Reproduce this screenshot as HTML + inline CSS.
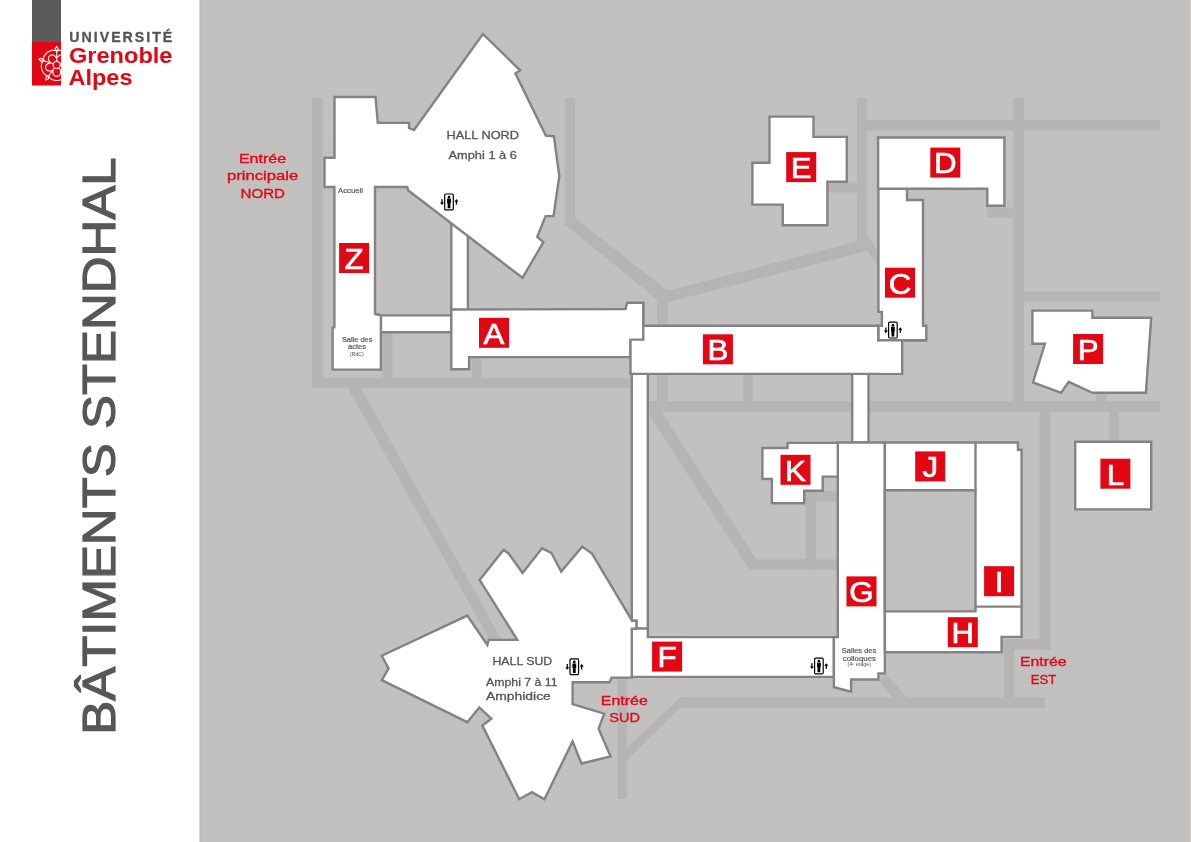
<!DOCTYPE html>
<html><head><meta charset="utf-8"><style>
html,body{margin:0;padding:0;background:#fff;}
body{width:1191px;height:842px;overflow:hidden;}
svg{display:block;font-family:"Liberation Sans",sans-serif;will-change:transform;}
</style></head><body>
<svg width="1191" height="842" viewBox="0 0 1191 842">
<rect x="0" y="0" width="1191" height="842" fill="#fff"/>
<rect x="199" y="0" width="992" height="842" fill="#c2c1c0"/>
<rect x="199" y="0" width="1" height="842" fill="#d9d9d9"/><rect x="200" y="0" width="1" height="842" fill="#bcbbba"/>
<rect x="1189.5" y="0" width="1.5" height="842" fill="#cfcfcf"/>
<rect x="312" y="97.8" width="10.50" height="289.80" fill="#b6b5b4"/>
<rect x="312" y="377.8" width="319.70" height="9.80" fill="#b6b5b4"/>
<rect x="382.5" y="332" width="10.00" height="46.00" fill="#b6b5b4"/>
<rect x="471.5" y="357" width="10.00" height="21.00" fill="#b6b5b4"/>
<polygon points="347.4,387.6 360.5,387.6 524.2,680 512.6,680" fill="#b6b5b4"/>
<polygon points="565,97.8 575,97.8 575,218 668,291 668,326 657,326 657,299.5 565,224.5" fill="#b6b5b4"/>
<polygon points="664.8,291.5 857.1,241.4 867.1,250.9 668,302.3" fill="#b6b5b4"/>
<rect x="857" y="97.8" width="10.00" height="152.20" fill="#b6b5b4"/>
<polygon points="867,235 878.5,252 878.5,266 867,250" fill="#b6b5b4"/>
<rect x="857" y="120" width="303.00" height="10.50" fill="#b6b5b4"/>
<rect x="827.4" y="182.5" width="29.60" height="10.10" fill="#b6b5b4"/>
<rect x="1013.5" y="97.8" width="10.50" height="313.20" fill="#b6b5b4"/>
<rect x="987.3" y="207.5" width="26.20" height="10.30" fill="#b6b5b4"/>
<rect x="1024" y="291.3" width="136.00" height="10.10" fill="#b6b5b4"/>
<rect x="648.7" y="401.1" width="511.30" height="10.90" fill="#b6b5b4"/>
<rect x="1096.3" y="392" width="10.10" height="9.10" fill="#b6b5b4"/>
<rect x="1039.5" y="412" width="10.70" height="237.60" fill="#b6b5b4"/>
<rect x="1109.3" y="412" width="9.80" height="30.00" fill="#b6b5b4"/>
<rect x="657" y="374" width="11.00" height="27.10" fill="#b6b5b4"/>
<rect x="742.9" y="374" width="10.00" height="27.10" fill="#b6b5b4"/>
<polygon points="648.7,412 661.7,412 756.2,559.3 756.2,569.7 749.5,569.7 648.7,414" fill="#b6b5b4"/>
<rect x="749.5" y="559.3" width="88.50" height="10.40" fill="#b6b5b4"/>
<rect x="805.6" y="491.2" width="10.40" height="78.50" fill="#b6b5b4"/>
<rect x="804" y="491.2" width="34.00" height="10.70" fill="#b6b5b4"/>
<rect x="1001.6" y="639.1" width="48.60" height="10.50" fill="#b6b5b4"/>
<rect x="1003.6" y="639.1" width="10.50" height="68.70" fill="#b6b5b4"/>
<rect x="680.6" y="697.3" width="364.40" height="10.50" fill="#b6b5b4"/>
<polygon points="680.6,697.3 690,697.3 627,760 627,747.4" fill="#b6b5b4"/>
<rect x="617.6" y="676.8" width="9.40" height="122.20" fill="#b6b5b4"/>
<polygon points="879,680.7 886.7,674.7 906.9,697.3 892,697.3" fill="#b6b5b4"/>
<polygon points="451.3,200 467.9,200 467.9,311 451.3,311" fill="#fff"/>
<polyline points="451.3,224 451.3,311" fill="none" stroke="#838383" stroke-width="2.4"/>
<polyline points="467.9,236 467.9,311" fill="none" stroke="#838383" stroke-width="2.4"/>
<polygon points="380.9,315.4 451.3,315.4 451.3,332.2 380.9,332.2" fill="#fff" stroke="#838383" stroke-width="2.4" stroke-linejoin="miter"/>
<polygon points="334.5,97 375.5,97 377.8,122.8 409,122.9 409,128 414,130 482.9,34 520.1,70.3 515.4,73.4 545.8,135.6 553.9,136.2 559.3,176.3 553.5,216 545.6,216.1 537.2,237 543.4,242.2 522.5,277.8 408,190.3 407.3,187 375,187 375,314 380.9,315.3 380.9,369.6 332.6,369.6 332.6,327.4 334.4,327.4 334.4,187 324.5,187 324.5,157.8 334.5,157.8" fill="#fff" stroke="#838383" stroke-width="2.4" stroke-linejoin="miter"/>
<polygon points="451.3,309.5 625.5,309 627.1,302.8 643.3,302.8 643.3,339.6 630.5,339.6 630.5,357.1 469.1,357.1 469.1,369.3 451.3,369.3" fill="#fff"/>
<polyline points="451.3,309.5 625.5,309 627.1,302.8 643.3,302.8 643.3,339.6 630.5,339.6 630.5,357.1 469.1,357.1 469.1,369.3 451.3,369.3 451.3,308.3" fill="none" stroke="#838383" stroke-width="2.4"/>
<polygon points="631.8,373.9 647.8,373.9 647.8,628.6 636.4,628.6 636.4,620.7 631.8,620.7" fill="#fff" stroke="#838383" stroke-width="2.4" stroke-linejoin="miter"/>
<polygon points="852.2,373.9 868.5,373.9 868.5,442.5 852.2,442.5" fill="#fff" stroke="#838383" stroke-width="2.4" stroke-linejoin="miter"/>
<polygon points="630.5,325.7 902.2,325.7 902.2,373.9 630.5,373.9" fill="#fff"/>
<polyline points="902.2,340 902.2,373.9 630.5,373.9 630.5,339.6" fill="none" stroke="#838383" stroke-width="2.4"/>
<polyline points="643.3,302.8 643.3,339.6 630.5,339.6" fill="none" stroke="#838383" stroke-width="2.4"/>
<polygon points="878.4,188.8 907,188.8 907,200 923,200 923,325.8 926.3,325.8 926.3,340.3 878.4,340.3 878.4,325.8 881.9,325.8 881.9,311.9 878.4,311.9" fill="#fff" stroke="#838383" stroke-width="2.4" stroke-linejoin="miter"/>
<polygon points="879.6,327 901,327 901,372.7 879.6,372.7" fill="#fff"/>
<polyline points="643.3,325.7 881.9,325.7" fill="none" stroke="#838383" stroke-width="2.4"/>
<polyline points="878.4,325.8 878.4,340.3 926.3,340.3" fill="none" stroke="#838383" stroke-width="2.4"/>
<polygon points="878.1,137.5 1004.4,137.5 1004.4,205.8 987.3,205.8 987.3,188.8 878.1,188.8" fill="#fff" stroke="#838383" stroke-width="2.4" stroke-linejoin="miter"/>
<polygon points="769.5,116.6 813.5,116.6 813.5,136.9 846.8,136.9 846.8,181.8 827.4,181.8 827.4,225.3 782.8,225.3 782.8,204.6 752.4,204.6 752.4,162.8 769.5,162.8" fill="#fff" stroke="#838383" stroke-width="2.4" stroke-linejoin="miter"/>
<polygon points="631.8,628.6 647.8,628.6 647.8,637.1 837.8,637.1 833.9,637.1 833.9,676.9 631.8,676.9" fill="#fff" stroke="#838383" stroke-width="2.4" stroke-linejoin="miter"/>
<polygon points="479.6,579.9 503.5,549.9 508.7,553.6 522.6,573 542,548.3 551.3,552.8 561.2,571.5 582.2,546.7 592,553.6 632.1,620.7 636.4,620.7 636.4,628.6 631.8,628.6 631.8,677.6 611.6,677.6 609.6,682.2 572.6,682.2 572.6,704.1 604.2,713.7 598.6,728.7 610.6,756.5 581.5,763.5 572.6,741.5 544.4,799.2 532,792.1 519.2,799.2 482.4,725.5 491.4,718.6 479.3,707.4 467.3,722.2 381.8,680.2 388.6,668.4 381.8,655.7 467.3,615.6 487.3,645 488.8,639.9 517.3,639.9" fill="#fff" stroke="#838383" stroke-width="2.4" stroke-linejoin="miter"/>
<polygon points="837.8,442.5 884.9,442.5 884.9,673.5 878.4,673.5 878.4,679.5 851.1,679.5 851.1,691.7 833.9,687.2 833.9,637.1 837.8,637.1" fill="#fff" stroke="#838383" stroke-width="2.4" stroke-linejoin="miter"/>
<polygon points="762.4,448 787.5,448 787.5,442.9 837.8,442.9 837.8,476.6 822.7,476.6 822.7,490.8 804.2,490.8 804.2,503.2 771.9,503.2 771.9,479 762.4,479" fill="#fff" stroke="#838383" stroke-width="2.4" stroke-linejoin="miter"/>
<polygon points="884.9,442.5 1017.9,442.5 1017.9,449.8 1021.6,449.8 1021.6,636.9 1001.6,636.9 1001.6,652.2 884.9,652.2" fill="#fff" stroke="#838383" stroke-width="2.4" stroke-linejoin="miter"/>
<polygon points="884.9,490.3 975.5,490.3 975.5,611.4 884.9,611.4" fill="#c2c1c0" stroke="#838383" stroke-width="2.4" stroke-linejoin="miter"/>
<polyline points="975.5,442.5 975.5,490.3" fill="none" stroke="#838383" stroke-width="2.4"/>
<polyline points="975.5,606.6 1021.6,606.6" fill="none" stroke="#838383" stroke-width="2.4"/>
<polygon points="1032.4,310.6 1092.4,310.6 1092.4,317.7 1151.2,317.7 1145.9,392.8 1092.4,392.8 1068.7,381.8 1061.2,392.8 1033,382.4 1044.9,343.8 1032.4,343.8" fill="#fff" stroke="#838383" stroke-width="2.4" stroke-linejoin="miter"/>
<polygon points="1075.2,441.8 1151.2,441.8 1151.2,509.4 1075.2,509.4" fill="#fff" stroke="#838383" stroke-width="2.4" stroke-linejoin="miter"/>
<rect x="339.1" y="243" width="30" height="30" fill="#e30613"/>
<text transform="translate(354.1,268.8) scale(1.06,1)" x="0" y="0" text-anchor="middle" font-size="29.5" fill="#fff" stroke="#fff" stroke-width="0.7">Z</text>
<rect x="479" y="317.8" width="30" height="30" fill="#e30613"/>
<text transform="translate(494,343.6) scale(1.06,1)" x="0" y="0" text-anchor="middle" font-size="29.5" fill="#fff" stroke="#fff" stroke-width="0.7">A</text>
<rect x="702.9" y="334.3" width="30" height="30" fill="#e30613"/>
<text transform="translate(717.9,360.1) scale(1.06,1)" x="0" y="0" text-anchor="middle" font-size="29.5" fill="#fff" stroke="#fff" stroke-width="0.7">B</text>
<rect x="885" y="267.7" width="30" height="30" fill="#e30613"/>
<text transform="translate(900,293.5) scale(1.06,1)" x="0" y="0" text-anchor="middle" font-size="29.5" fill="#fff" stroke="#fff" stroke-width="0.7">C</text>
<rect x="930.3" y="147.6" width="30" height="30" fill="#e30613"/>
<text transform="translate(945.3,173.4) scale(1.06,1)" x="0" y="0" text-anchor="middle" font-size="29.5" fill="#fff" stroke="#fff" stroke-width="0.7">D</text>
<rect x="786.2" y="152.1" width="30" height="30" fill="#e30613"/>
<text transform="translate(801.2,177.9) scale(1.06,1)" x="0" y="0" text-anchor="middle" font-size="29.5" fill="#fff" stroke="#fff" stroke-width="0.7">E</text>
<rect x="652.1" y="641.6" width="30" height="30" fill="#e30613"/>
<text transform="translate(667.1,667.4) scale(1.06,1)" x="0" y="0" text-anchor="middle" font-size="29.5" fill="#fff" stroke="#fff" stroke-width="0.7">F</text>
<rect x="846.5" y="576.4" width="30" height="30" fill="#e30613"/>
<text transform="translate(861.5,602.1999999999999) scale(1.06,1)" x="0" y="0" text-anchor="middle" font-size="29.5" fill="#fff" stroke="#fff" stroke-width="0.7">G</text>
<rect x="947.8" y="617.2" width="30" height="30" fill="#e30613"/>
<text transform="translate(962.8,643.0) scale(1.06,1)" x="0" y="0" text-anchor="middle" font-size="29.5" fill="#fff" stroke="#fff" stroke-width="0.7">H</text>
<rect x="984.1" y="566.2" width="30" height="30" fill="#e30613"/>
<text transform="translate(999.1,592.0) scale(1.06,1)" x="0" y="0" text-anchor="middle" font-size="29.5" fill="#fff" stroke="#fff" stroke-width="0.7">I</text>
<rect x="915.2" y="451.4" width="30" height="30" fill="#e30613"/>
<text transform="translate(930.2,477.2) scale(1.06,1)" x="0" y="0" text-anchor="middle" font-size="29.5" fill="#fff" stroke="#fff" stroke-width="0.7">J</text>
<rect x="780.5" y="454.8" width="30" height="30" fill="#e30613"/>
<text transform="translate(795.5,480.6) scale(1.06,1)" x="0" y="0" text-anchor="middle" font-size="29.5" fill="#fff" stroke="#fff" stroke-width="0.7">K</text>
<rect x="1100.4" y="458.7" width="30" height="30" fill="#e30613"/>
<text transform="translate(1115.4,484.5) scale(1.06,1)" x="0" y="0" text-anchor="middle" font-size="29.5" fill="#fff" stroke="#fff" stroke-width="0.7">L</text>
<rect x="1073.1" y="334" width="30" height="30" fill="#e30613"/>
<text transform="translate(1088.1,359.8) scale(1.06,1)" x="0" y="0" text-anchor="middle" font-size="29.5" fill="#fff" stroke="#fff" stroke-width="0.7">P</text>
<g transform="translate(444.1,193.4)"><rect x="0.6" y="0.6" width="8.6" height="15.8" rx="1.1" fill="#fff" stroke="#000" stroke-width="1.2"/><circle cx="4.9" cy="3.7" r="1.35" fill="#000"/><path d="M3.0 5.2 h3.8 v4.6 h-0.5 v5 h-2.8 v-5 h-0.5 z" fill="#000"/><path d="M-2.1 5.8 v4.2" stroke="#000" stroke-width="1.3"/><path d="M-4.1 9.0 h4 l-2 2.6 z" fill="#000"/><path d="M12.3 11.2 v-4.2" stroke="#000" stroke-width="1.3"/><path d="M10.3 8.3 h4 l-2 -2.6 z" fill="#000"/></g>
<g transform="translate(888,321.6)"><rect x="0.6" y="0.6" width="8.6" height="15.8" rx="1.1" fill="#fff" stroke="#000" stroke-width="1.2"/><circle cx="4.9" cy="3.7" r="1.35" fill="#000"/><path d="M3.0 5.2 h3.8 v4.6 h-0.5 v5 h-2.8 v-5 h-0.5 z" fill="#000"/><path d="M-2.1 5.8 v4.2" stroke="#000" stroke-width="1.3"/><path d="M-4.1 9.0 h4 l-2 2.6 z" fill="#000"/><path d="M12.3 11.2 v-4.2" stroke="#000" stroke-width="1.3"/><path d="M10.3 8.3 h4 l-2 -2.6 z" fill="#000"/></g>
<g transform="translate(569.4,658.2)"><rect x="0.6" y="0.6" width="8.6" height="15.8" rx="1.1" fill="#fff" stroke="#000" stroke-width="1.2"/><circle cx="4.9" cy="3.7" r="1.35" fill="#000"/><path d="M3.0 5.2 h3.8 v4.6 h-0.5 v5 h-2.8 v-5 h-0.5 z" fill="#000"/><path d="M-2.1 5.8 v4.2" stroke="#000" stroke-width="1.3"/><path d="M-4.1 9.0 h4 l-2 2.6 z" fill="#000"/><path d="M12.3 11.2 v-4.2" stroke="#000" stroke-width="1.3"/><path d="M10.3 8.3 h4 l-2 -2.6 z" fill="#000"/></g>
<g transform="translate(814,657.5)"><rect x="0.6" y="0.6" width="8.6" height="15.8" rx="1.1" fill="#fff" stroke="#000" stroke-width="1.2"/><circle cx="4.9" cy="3.7" r="1.35" fill="#000"/><path d="M3.0 5.2 h3.8 v4.6 h-0.5 v5 h-2.8 v-5 h-0.5 z" fill="#000"/><path d="M-2.1 5.8 v4.2" stroke="#000" stroke-width="1.3"/><path d="M-4.1 9.0 h4 l-2 2.6 z" fill="#000"/><path d="M12.3 11.2 v-4.2" stroke="#000" stroke-width="1.3"/><path d="M10.3 8.3 h4 l-2 -2.6 z" fill="#000"/></g>
<text x="446.5" y="139.2" font-size="11.4" fill="#555555" stroke="#555555" stroke-width="0.29" text-anchor="start" font-weight="normal" textLength="72.5" lengthAdjust="spacingAndGlyphs">HALL NORD</text>
<text x="448.4" y="159" font-size="11.8" fill="#555555" stroke="#555555" stroke-width="0.30" text-anchor="start" font-weight="normal" textLength="68.6" lengthAdjust="spacingAndGlyphs">Amphi 1 à 6</text>
<text x="338" y="193" font-size="7.8" fill="#555555" stroke="#555555" stroke-width="0.20" text-anchor="start" font-weight="normal" textLength="25" lengthAdjust="spacingAndGlyphs">Accueil</text>
<text x="341.9" y="341.8" font-size="7.4" fill="#555555" stroke="#555555" stroke-width="0.19" text-anchor="start" font-weight="normal" textLength="30.5" lengthAdjust="spacingAndGlyphs">Salle des</text>
<text x="348" y="349.3" font-size="7.4" fill="#555555" stroke="#555555" stroke-width="0.19" text-anchor="start" font-weight="normal" textLength="18" lengthAdjust="spacingAndGlyphs">actes</text>
<text x="349.9" y="355.7" font-size="5.2" fill="#555555" stroke="#555555" stroke-width="0.00" text-anchor="start" font-weight="normal" textLength="13.9" lengthAdjust="spacingAndGlyphs">(RdC)</text>
<text x="492.4" y="665.2" font-size="11.2" fill="#555555" stroke="#555555" stroke-width="0.28" text-anchor="start" font-weight="normal" textLength="59.9" lengthAdjust="spacingAndGlyphs">HALL SUD</text>
<text x="486" y="686" font-size="11.8" fill="#555555" stroke="#555555" stroke-width="0.30" text-anchor="start" font-weight="normal" textLength="71.6" lengthAdjust="spacingAndGlyphs">Amphi 7 à 11</text>
<text x="486" y="699.8" font-size="11.8" fill="#555555" stroke="#555555" stroke-width="0.30" text-anchor="start" font-weight="normal" textLength="64.8" lengthAdjust="spacingAndGlyphs">Amphidice</text>
<text x="841.8" y="652.8" font-size="7.4" fill="#555555" stroke="#555555" stroke-width="0.19" text-anchor="start" font-weight="normal" textLength="34.4" lengthAdjust="spacingAndGlyphs">Salles des</text>
<text x="842.8" y="660.5" font-size="7.4" fill="#555555" stroke="#555555" stroke-width="0.19" text-anchor="start" font-weight="normal" textLength="33.2" lengthAdjust="spacingAndGlyphs">colloques</text>
<text x="847.5" y="666.4" font-size="4.6" fill="#555555" stroke="#555555" stroke-width="0.00" text-anchor="start" font-weight="normal" textLength="23.5" lengthAdjust="spacingAndGlyphs">(4ᵉ étage)</text>
<text x="238.9" y="163.2" font-size="13.6" fill="#e30613" stroke="#e30613" stroke-width="0.34" text-anchor="start" font-weight="normal" textLength="47.3" lengthAdjust="spacingAndGlyphs">Entrée</text>
<text x="227" y="180.3" font-size="13.4" fill="#e30613" stroke="#e30613" stroke-width="0.34" text-anchor="start" font-weight="normal" textLength="71.3" lengthAdjust="spacingAndGlyphs">principale</text>
<text x="240.6" y="197.6" font-size="13.6" fill="#e30613" stroke="#e30613" stroke-width="0.34" text-anchor="start" font-weight="normal" textLength="44.4" lengthAdjust="spacingAndGlyphs">NORD</text>
<text x="600.8" y="704.8" font-size="13.6" fill="#e30613" stroke="#e30613" stroke-width="0.34" text-anchor="start" font-weight="normal" textLength="47" lengthAdjust="spacingAndGlyphs">Entrée</text>
<text x="609.3" y="721.9" font-size="13.6" fill="#e30613" stroke="#e30613" stroke-width="0.34" text-anchor="start" font-weight="normal" textLength="30.6" lengthAdjust="spacingAndGlyphs">SUD</text>
<text x="1019.9" y="666" font-size="13.4" fill="#e30613" stroke="#e30613" stroke-width="0.34" text-anchor="start" font-weight="normal" textLength="46.6" lengthAdjust="spacingAndGlyphs">Entrée</text>
<text x="1030.7" y="683.5" font-size="13.4" fill="#e30613" stroke="#e30613" stroke-width="0.34" text-anchor="start" font-weight="normal" textLength="25.5" lengthAdjust="spacingAndGlyphs">EST</text>
<rect x="32" y="0" width="29" height="42" fill="#5b5b5b"/>
<rect x="32" y="42" width="29" height="43.5" fill="#e30613"/>
<clipPath id="fc"><rect x="32" y="42" width="29" height="43.5"/></clipPath><g clip-path="url(#fc)" fill="none" stroke="#fff" stroke-width="1.1"><path d="M43.96 60.76 L43.43 59.65 L43.47 58.67 L43.66 57.73 L43.96 56.82 L44.36 55.94 L44.85 55.10 L45.42 54.31 L46.06 53.57 L46.76 52.89 L47.53 52.28 L48.35 51.74 L49.21 51.28 L50.11 50.90 L51.04 50.60 L51.99 50.40 L52.95 50.29 L53.91 50.28 L54.87 50.39 L55.80 50.66 L56.70 51.50 M50.35 62.39 L49.44 61.48 L48.88 60.60 L48.55 59.73 L48.42 58.89 L48.46 58.08 L48.64 57.34 L48.96 56.66 L49.40 56.08 L49.94 55.60 L50.56 55.23 L51.26 55.00 L51.99 54.90 L52.76 54.95 L53.54 55.17 L54.30 55.55 L55.03 56.13 L55.69 56.94 L56.27 58.08 M56.70 51.50 L57.60 50.66 L58.53 50.39 L59.49 50.28 L60.45 50.29 L61.41 50.40 L62.36 50.60 L63.29 50.90 L64.19 51.28 L65.05 51.74 L65.87 52.28 L66.64 52.89 L67.34 53.57 L67.98 54.31 L68.55 55.10 L69.04 55.94 L69.44 56.82 L69.74 57.73 L69.93 58.67 L69.97 59.65 L69.44 60.76 M57.13 58.08 L57.71 56.94 L58.37 56.13 L59.10 55.55 L59.86 55.17 L60.64 54.95 L61.41 54.90 L62.14 55.00 L62.84 55.23 L63.46 55.60 L64.00 56.08 L64.44 56.66 L64.76 57.34 L64.94 58.08 L64.98 58.89 L64.85 59.73 L64.52 60.60 L63.96 61.48 L63.05 62.39 M69.44 60.76 L70.52 61.35 L71.06 62.16 L71.46 63.03 L71.76 63.95 L71.95 64.90 L72.05 65.87 L72.05 66.84 L71.97 67.81 L71.80 68.78 L71.54 69.72 L71.19 70.64 L70.77 71.52 L70.26 72.36 L69.68 73.14 L69.04 73.86 L68.32 74.52 L67.55 75.09 L66.71 75.56 L65.80 75.90 L64.58 75.74 M63.32 63.20 L64.58 63.40 L65.56 63.78 L66.33 64.29 L66.93 64.90 L67.38 65.57 L67.66 66.29 L67.80 67.02 L67.79 67.75 L67.64 68.45 L67.35 69.12 L66.93 69.71 L66.38 70.22 L65.73 70.63 L64.98 70.91 L64.14 71.05 L63.21 71.01 L62.19 70.75 L61.05 70.16 M64.58 75.74 L64.35 76.95 L63.74 77.71 L63.04 78.37 L62.25 78.93 L61.41 79.40 L60.52 79.80 L59.60 80.10 L58.65 80.32 L57.68 80.46 L56.70 80.50 L55.72 80.46 L54.75 80.32 L53.80 80.10 L52.88 79.80 L51.99 79.40 L51.15 78.93 L50.36 78.37 L49.66 77.71 L49.05 76.95 L48.82 75.74 M60.36 70.67 L60.57 71.93 L60.50 72.98 L60.25 73.87 L59.86 74.63 L59.36 75.26 L58.77 75.76 L58.12 76.11 L57.42 76.33 L56.70 76.40 L55.98 76.33 L55.28 76.11 L54.63 75.76 L54.04 75.26 L53.54 74.63 L53.15 73.87 L52.90 72.98 L52.83 71.93 L53.04 70.67 M48.82 75.74 L47.60 75.90 L46.69 75.56 L45.85 75.09 L45.08 74.52 L44.36 73.86 L43.72 73.14 L43.14 72.36 L42.63 71.52 L42.21 70.64 L41.86 69.72 L41.60 68.78 L41.43 67.81 L41.35 66.84 L41.35 65.87 L41.45 64.90 L41.64 63.95 L41.94 63.03 L42.34 62.16 L42.88 61.35 L43.96 60.76 M52.35 70.16 L51.21 70.75 L50.19 71.01 L49.26 71.05 L48.42 70.91 L47.67 70.63 L47.02 70.22 L46.47 69.71 L46.05 69.12 L45.76 68.45 L45.61 67.75 L45.60 67.02 L45.74 66.29 L46.02 65.57 L46.47 64.90 L47.07 64.29 L47.84 63.78 L48.82 63.40 L50.08 63.20 "/><path d="M56.70 61.40 L56.70 51.30 M60.03 63.82 L69.63 60.70 M58.76 67.73 L64.69 75.90 M54.64 67.73 L48.71 75.90 M53.37 63.82 L43.77 60.70 "/><path d="M56.70 51.30 L58.20 48.70 L56.70 46.40 L55.20 48.70 Z M69.63 60.70 L72.57 61.32 L74.29 59.18 L71.64 58.47 Z M64.69 75.90 L65.01 78.89 L67.57 79.87 L67.44 77.12 Z M48.71 75.90 L45.96 77.12 L45.83 79.87 L48.39 78.89 Z M43.77 60.70 L41.76 58.47 L39.11 59.18 L40.83 61.32 Z "/><circle cx="56.7" cy="64.9" r="3.6" fill="#e30613" stroke="#fff" stroke-width="1.2"/></g>
<text x="69.3" y="41.6" font-size="14.2" font-weight="bold" fill="#555" stroke="#555" stroke-width="0.3" textLength="103" lengthAdjust="spacing">UNIVERSITÉ</text>
<text x="69" y="63.4" font-size="22.3" font-weight="bold" fill="#e30613" textLength="103.5" lengthAdjust="spacingAndGlyphs">Grenoble</text>
<text x="68.5" y="85.3" font-size="22.3" font-weight="bold" fill="#e30613" textLength="64" lengthAdjust="spacingAndGlyphs">Alpes</text>
<text transform="translate(115.4,734.8) rotate(-90)" x="0" y="0" font-size="46.5" fill="#575757" stroke="#575757" stroke-width="1.2" textLength="577.5" lengthAdjust="spacingAndGlyphs">BÂTIMENTS STENDHAL</text>
</svg>
</body></html>
